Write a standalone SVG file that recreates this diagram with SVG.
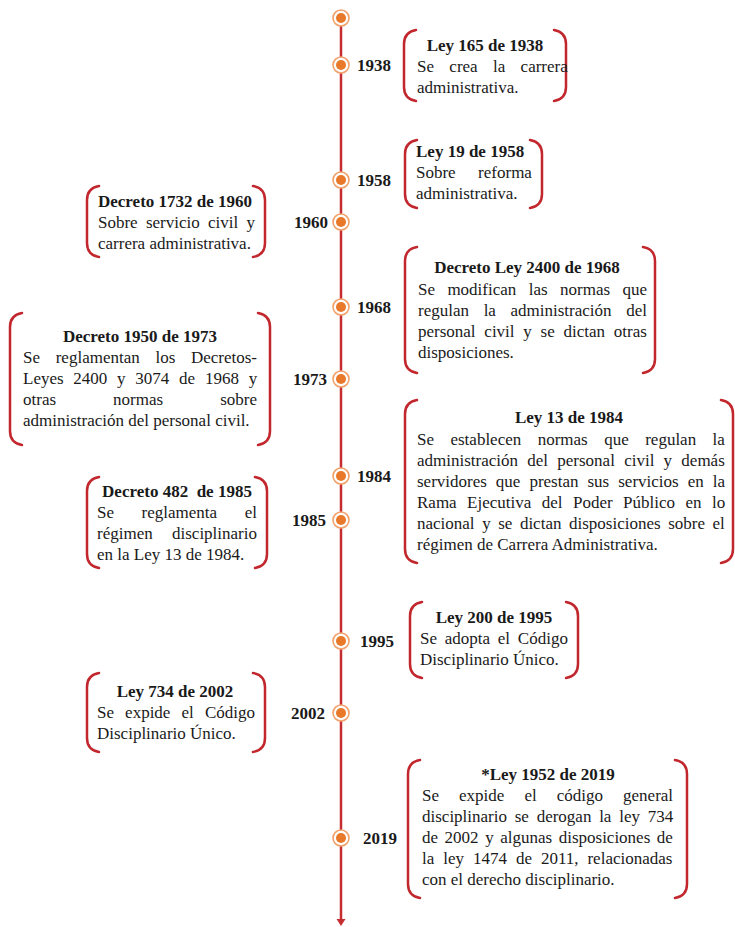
<svg xmlns="http://www.w3.org/2000/svg" width="735" height="927" viewBox="0 0 735 927">
<defs>
<style>
.br{fill:none;stroke:#C1272D;stroke-width:2.5;stroke-linecap:round}
.t{font-family:"Liberation Serif","Times New Roman",serif;font-size:17px;fill:#1a1a1a}
.b{font-weight:bold}
.c{text-anchor:middle}
.e{text-anchor:end}
.ring{fill:#fff;stroke:#F2A06A;stroke-width:1.6}
.dot{fill:#E8782A}
</style>
</defs>
<rect width="735" height="927" fill="#fff"/>
<g id="connectors">
<line x1="341" y1="18" x2="341" y2="920" stroke="#C62D30" stroke-width="2.5"/>
<polygon points="336.5,919 345.5,919 341,926" fill="#C62D30"/>
</g>
<g id="markers">
<g id="m-top"><circle class="ring" cx="341" cy="18" r="8"/><circle class="dot" cx="341" cy="18" r="5"/></g>
<g id="m-1938"><circle class="ring" cx="341" cy="65" r="8"/><circle class="dot" cx="341" cy="65" r="5"/><text class="t b" x="357" y="71">1938</text></g>
<g id="m-1958"><circle class="ring" cx="341" cy="180" r="8"/><circle class="dot" cx="341" cy="180" r="5"/><text class="t b" x="357" y="186">1958</text></g>
<g id="m-1960"><circle class="ring" cx="341" cy="222" r="8"/><circle class="dot" cx="341" cy="222" r="5"/><text class="t b e" x="328" y="228">1960</text></g>
<g id="m-1968"><circle class="ring" cx="341" cy="307" r="8"/><circle class="dot" cx="341" cy="307" r="5"/><text class="t b" x="357" y="313">1968</text></g>
<g id="m-1973"><circle class="ring" cx="341" cy="379" r="8"/><circle class="dot" cx="341" cy="379" r="5"/><text class="t b e" x="327" y="385">1973</text></g>
<g id="m-1984"><circle class="ring" cx="341" cy="476" r="8"/><circle class="dot" cx="341" cy="476" r="5"/><text class="t b" x="357" y="482">1984</text></g>
<g id="m-1985"><circle class="ring" cx="341" cy="520" r="8"/><circle class="dot" cx="341" cy="520" r="5"/><text class="t b e" x="326" y="526">1985</text></g>
<g id="m-1995"><circle class="ring" cx="341" cy="641" r="8"/><circle class="dot" cx="341" cy="641" r="5"/><text class="t b" x="360" y="647">1995</text></g>
<g id="m-2002"><circle class="ring" cx="341" cy="713" r="8"/><circle class="dot" cx="341" cy="713" r="5"/><text class="t b e" x="325" y="719">2002</text></g>
<g id="m-2019"><circle class="ring" cx="341" cy="838" r="8"/><circle class="dot" cx="341" cy="838" r="5"/><text class="t b" x="363" y="844">2019</text></g>
</g>
<g id="box-1938">
<path class="br" d="M416 30 Q404 32 404 44 V87 Q404 99 416 101"/>
<path class="br" d="M554 30 Q566 32 566 44 V87 Q566 99 554 101"/>
<text class="t b c" x="485" y="51">Ley 165 de 1938</text>
<text class="t" x="417" y="72" style="word-spacing:11.1px">Se crea la carrera</text>
<text class="t" x="417" y="93">administrativa.</text>
</g>
<g id="box-1958">
<path class="br" d="M417 140 Q405 142 405 154 V194 Q405 206 417 208"/>
<path class="br" d="M530 140 Q542 142 542 154 V194 Q542 206 530 208"/>
<text class="t b" x="416" y="157">Ley 19 de 1958</text>
<text class="t" x="416" y="178" style="word-spacing:18.2px">Sobre reforma</text>
<text class="t" x="416" y="199">administrativa.</text>
</g>
<g id="box-1960">
<path class="br" d="M99 186 Q87 188 87 200 V243 Q87 255 99 257"/>
<path class="br" d="M253 186 Q265 188 265 200 V243 Q265 255 253 257"/>
<text class="t b" x="98" y="207">Decreto 1732 de 1960</text>
<text class="t" x="98" y="228" style="word-spacing:4px">Sobre servicio civil y</text>
<text class="t" x="98" y="249">carrera administrativa.</text>
</g>
<g id="box-1968">
<path class="br" d="M417 247 Q405 249 405 261 V359 Q405 371 417 373"/>
<path class="br" d="M643 247 Q655 249 655 261 V359 Q655 371 643 373"/>
<text class="t b c" x="527" y="273">Decreto Ley 2400 de 1968</text>
<text class="t" x="418" y="295" style="word-spacing:8.15px">Se modifican las normas que</text>
<text class="t" x="418" y="316" style="word-spacing:10.4px">regulan la administración del</text>
<text class="t" x="418" y="337" style="word-spacing:4.5px">personal civil y se dictan otras</text>
<text class="t" x="418" y="358">disposiciones.</text>
</g>
<g id="box-1973">
<path class="br" d="M22 313 Q10 315 10 327 V431 Q10 443 22 445"/>
<path class="br" d="M258 313 Q270 315 270 327 V431 Q270 443 258 445"/>
<text class="t b c" x="140" y="342">Decreto 1950 de 1973</text>
<text class="t" x="23" y="363" style="word-spacing:11.45px">Se reglamentan los Decretos-</text>
<text class="t" x="23" y="384" style="word-spacing:5.5px">Leyes 2400 y 3074 de 1968 y</text>
<text class="t" x="23" y="405" style="word-spacing:52.8px">otras normas sobre</text>
<text class="t" x="23" y="426">administración del personal civil.</text>
</g>
<g id="box-1984">
<path class="br" d="M417 400 Q405 402 405 414 V549 Q405 561 417 563"/>
<path class="br" d="M721 400 Q733 402 733 414 V549 Q733 561 721 563"/>
<text class="t b c" x="569" y="423">Ley 13 de 1984</text>
<text class="t" x="417" y="445" style="word-spacing:12.2px">Se establecen normas que regulan la</text>
<text class="t" x="417" y="466" style="word-spacing:5px">administración del personal civil y demás</text>
<text class="t" x="417" y="487" style="word-spacing:4.75px">servidores que prestan sus servicios en la</text>
<text class="t" x="417" y="508" style="word-spacing:6.2px">Rama Ejecutiva del Poder Público en lo</text>
<text class="t" x="417" y="529" style="word-spacing:3.3px">nacional y se dictan disposiciones sobre el</text>
<text class="t" x="417" y="550">régimen de Carrera Administrativa.</text>
</g>
<g id="box-1985">
<path class="br" d="M99 477 Q87 479 87 491 V554 Q87 566 99 568"/>
<path class="br" d="M255 477 Q267 479 267 491 V554 Q267 566 255 568"/>
<text class="t b c" x="177" y="497">Decreto 482&#160; de 1985</text>
<text class="t" x="97" y="518" style="word-spacing:23.35px">Se reglamenta el</text>
<text class="t" x="97" y="539" style="word-spacing:15.05px">régimen disciplinario</text>
<text class="t" x="97" y="560">en la Ley 13 de 1984.</text>
</g>
<g id="box-1995">
<path class="br" d="M422 602 Q410 604 410 616 V664 Q410 676 422 678"/>
<path class="br" d="M566 602 Q578 604 578 616 V664 Q578 676 566 678"/>
<text class="t b c" x="494" y="623">Ley 200 de 1995</text>
<text class="t" x="420" y="644" style="word-spacing:3.5px">Se adopta el Código</text>
<text class="t" x="420" y="665">Disciplinario Único.</text>
</g>
<g id="box-2002">
<path class="br" d="M99 673 Q87 675 87 687 V738 Q87 750 99 752"/>
<path class="br" d="M253 673 Q265 675 265 687 V738 Q265 750 253 752"/>
<text class="t b c" x="175" y="697">Ley 734 de 2002</text>
<text class="t" x="97" y="718" style="word-spacing:6.85px">Se expide el Código</text>
<text class="t" x="97" y="739">Disciplinario Único.</text>
</g>
<g id="box-2019">
<path class="br" d="M420 760 Q408 762 408 774 V884 Q408 896 420 898"/>
<path class="br" d="M675 760 Q687 762 687 774 V884 Q687 896 675 898"/>
<text class="t b c" x="548" y="780">*Ley 1952 de 2019</text>
<text class="t" x="422" y="801" style="word-spacing:15.8px">Se expide el código general</text>
<text class="t" x="422" y="822" style="word-spacing:3.5px">disciplinario se derogan la ley 734</text>
<text class="t" x="422" y="843" style="word-spacing:2.3px">de 2002 y algunas disposiciones de</text>
<text class="t" x="422" y="864" style="word-spacing:4.7px">la ley 1474 de 2011, relacionadas</text>
<text class="t" x="422" y="885">con el derecho disciplinario.</text>
</g>
</svg>
